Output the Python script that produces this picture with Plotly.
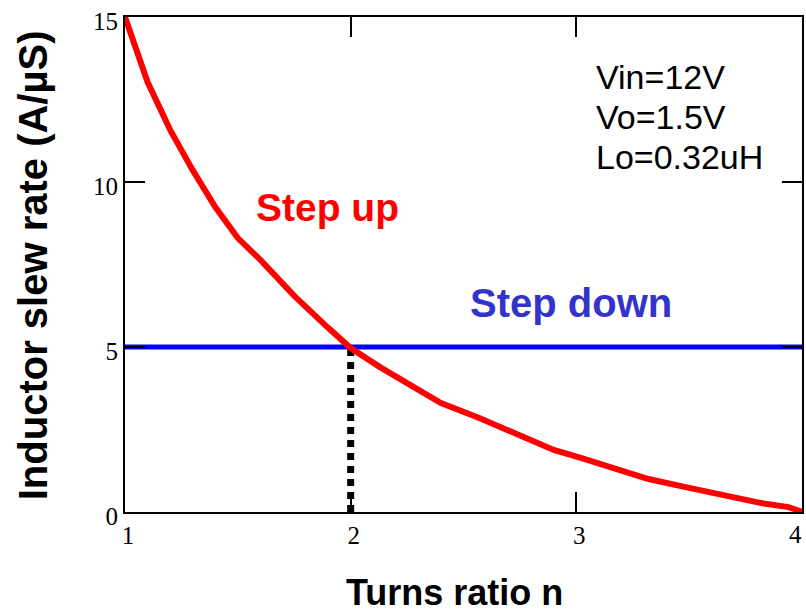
import plotly.graph_objects as go

# Data
turns_ratio = [1.0, 1.1, 1.2, 1.3, 1.4, 1.5, 1.6, 1.75, 1.9, 2.0, 2.13, 2.26, 2.4,
               2.57, 2.73, 2.9, 3.02, 3.2, 3.32, 3.5, 3.66, 3.82, 3.94, 4.0]
step_up_rate = [15.0, 13.03, 11.58, 10.36, 9.24, 8.30, 7.64, 6.55, 5.58, 4.97, 4.39, 3.85, 3.30,
                2.85, 2.39, 1.88, 1.64, 1.27, 1.0, 0.73, 0.48, 0.27, 0.15, 0.0]
step_down_x = [1.0, 4.0]
step_down_rate = [5.0, 5.0]
crossing_x = [2.0, 2.0]
crossing_y = [0.0, 5.0]
x_ticks = [1, 2, 3, 4]
y_ticks = [0, 5, 10, 15]
params_text = ["Vin=12V", "Vo=1.5V", "Lo=0.32uH"]

SANS = "Liberation Sans, Arial, sans-serif"
SERIF = "Liberation Serif, Times New Roman, serif"

fig = go.Figure()
fig.add_trace(go.Scatter(x=step_down_x, y=step_down_rate, mode="lines",
                         line=dict(color="#0000FF", width=5), showlegend=False))
fig.add_trace(go.Scatter(x=crossing_x, y=crossing_y, mode="lines",
                         line=dict(color="black", width=7, dash="7px,6px"), showlegend=False))
fig.add_trace(go.Scatter(x=turns_ratio, y=step_up_rate, mode="lines",
                         line=dict(color="#FF0000", width=6), showlegend=False))

axis_common = dict(showline=True, linecolor="black", linewidth=2, mirror="ticks",
                   ticks="inside", ticklen=20, tickwidth=2, tickcolor="black",
                   showgrid=False, zeroline=False,
                   tickfont=dict(family=SERIF, size=25, color="black"))
fig.update_xaxes(range=[1, 4], tickvals=x_ticks, ticktext=[str(v) for v in x_ticks],
                 ticklabelshift=3, ticklabeloverflow="hide past div", **axis_common)
fig.update_yaxes(range=[0, 15], tickvals=y_ticks, ticktext=[str(v) for v in y_ticks],
                 ticklabelshift=4, ticklabeloverflow="allow", **axis_common)

# positions given in page pixels
annotations = [
    dict(text="<b>Step up</b>", x=328, y=207,
         font=dict(family=SANS, size=39, color="#FF0000")),
    dict(text="<b>Step down</b>", x=572, y=303,
         font=dict(family=SANS, size=40, color="#3333CC")),
    dict(text="<b>Turns ratio n</b>", x=455, y=592,
         font=dict(family=SANS, size=36, color="black")),
    dict(text="<b>Inductor slew rate (A/µS)</b>", x=33, y=265, textangle=-90,
         font=dict(family=SANS, size=40, color="black")),
]
for i, t in enumerate(params_text):
    annotations.append(dict(text=t, x=595, y=77 + 40 * i, xanchor="left",
                            font=dict(family=SANS, size=34, color="black")))

W, H = 806, 612
L, R, T, B = 125, 2, 17, 100
pw, ph = W - L - R, H - T - B
ann_out = []
for a in annotations:
    px, py = a.pop("x"), a.pop("y")
    a.update(xref="paper", yref="paper", x=(px - L) / pw, y=(H - B - py) / ph,
             showarrow=False, yanchor="middle")
    a.setdefault("xanchor", "center")
    ann_out.append(a)

# last x tick label (clipped at the page edge in the reference), kept inside the page
ann_out.append(dict(text=str(x_ticks[-1]), xref="x", x=x_ticks[-1], yref="paper", y=0,
                    xanchor="right", yanchor="middle", xshift=1, yshift=-22,
                    showarrow=False, borderpad=0,
                    font=dict(family=SERIF, size=25, color="black")))

fig.update_layout(width=W, height=H, margin=dict(l=L, r=R, t=T, b=B),
                  plot_bgcolor="white", paper_bgcolor="white",
                  annotations=ann_out)
fig.write_html("out.html", config={"displayModeBar": False},
               post_script="document.body.style.margin='0';"
                           "document.body.style.overflow='hidden';"
                           "document.documentElement.style.overflow='hidden';")
